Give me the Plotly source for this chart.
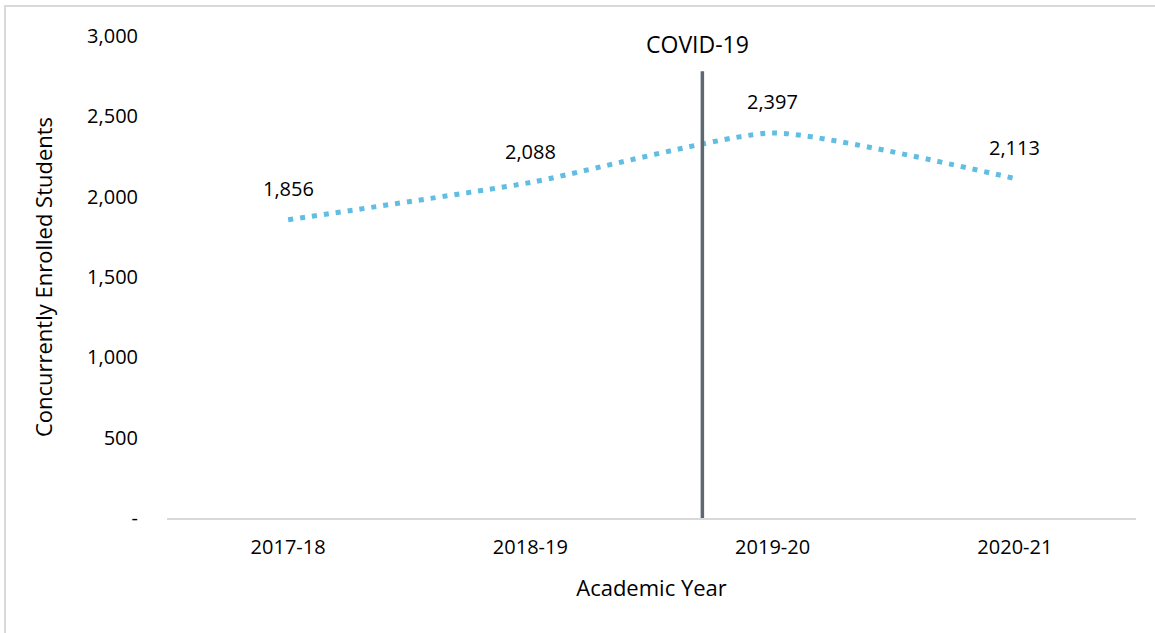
import plotly.graph_objects as go

years = ["2017-18", "2018-19", "2019-20", "2020-21"]
students = [1856, 2088, 2397, 2113]
label_text = ["1,856", "2,088", "2,397", "2,113"]
y_ticks = [0, 500, 1000, 1500, 2000, 2500, 3000]
y_tick_text = ["-", "500", "1,000", "1,500", "2,000", "2,500", "3,000"]
covid_x = 1.71
covid_top = 2780

FONT = "Open Sans"
W, H = 1155, 633
L, R, T, B = 167, 19, 36, 115
pw, ph = W - L - R, H - T - B

fig = go.Figure()
fig.add_trace(go.Scatter(
    x=list(range(len(years))), y=students, mode="lines",
    line=dict(color="#62BDE3", width=5, dash="5px,7px", shape="spline", smoothing=0.5),
    hoverinfo="skip", showlegend=False,
))

for i, (v, t) in enumerate(zip(students, label_text)):
    fig.add_annotation(x=i, y=v, text=t, showarrow=False, yshift=31,
                       font=dict(family=FONT, size=20, color="#000000"))

fig.add_shape(type="line", xref="x", yref="y", x0=covid_x, x1=covid_x, y0=-15, y1=covid_top,
              line=dict(color="#5F6770", width=3.5))
fig.add_annotation(x=covid_x, y=covid_top, text="COVID-19", showarrow=False, yshift=27, xshift=-5,
                   font=dict(family=FONT, size=23, color="#000000"))

# outer light border (top/left visible, extends past right/bottom edges)
fig.add_shape(type="rect", xref="paper", yref="paper",
              x0=(5 - L) / pw, x1=(W + 5 - L) / pw,
              y0=(H - B - (H + 5)) / ph, y1=(H - B - 6) / ph,
              line=dict(color="#D9D9D9", width=2), fillcolor="rgba(0,0,0,0)", layer="below")

fig.update_layout(
    width=W, height=H,
    margin=dict(l=L, r=R, t=T, b=B),
    paper_bgcolor="white", plot_bgcolor="white",
    font=dict(family=FONT, size=20, color="#000000"),
    xaxis=dict(
        range=[-0.5, 3.5], tickvals=list(range(len(years))), ticktext=years,
        showgrid=False, showline=True, linecolor="#D9D9D9", linewidth=1.5,
        ticks="", tickfont=dict(family=FONT, size=20), zeroline=False, ticklabelstandoff=10,
        title=dict(text="Academic Year", font=dict(family=FONT, size=22), standoff=22),
    ),
    yaxis=dict(
        range=[0, 3000], tickvals=y_ticks, ticktext=y_tick_text,
        showgrid=False, showline=False, zeroline=False, ticks="",
        tickfont=dict(family=FONT, size=20), ticklabelstandoff=28,
        title=dict(text="Concurrently Enrolled Students", font=dict(family=FONT, size=22), standoff=28),
    ),
)

fig.write_html("out.html", config={"displayModeBar": False},
               post_script="document.body.style.margin='0';")
